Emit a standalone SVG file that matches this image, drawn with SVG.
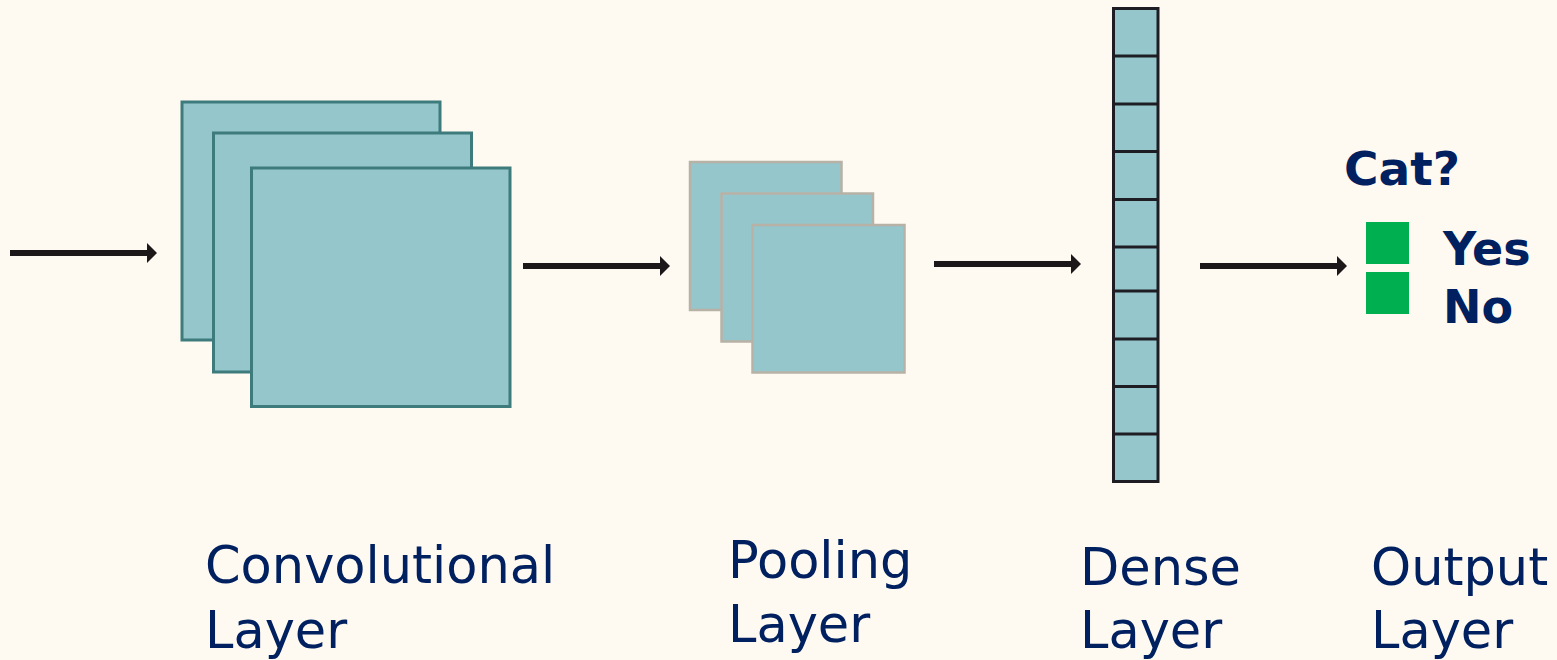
<svg xmlns="http://www.w3.org/2000/svg" width="1557" height="660" viewBox="0 0 1557 660">
<defs>
<style>
.conv{fill:#94c6cc;stroke:#3e7b7d;stroke-width:3}
.pool{fill:#94c6cc;stroke:#b8b2a6;stroke-width:2.5}
.dense{fill:#94c6cc;stroke:#1f1d24;stroke-width:3}
.div{stroke:#1f1d24;stroke-width:3}
.lbl{font-family:"DejaVu Sans","Liberation Sans",sans-serif;font-size:51px;fill:#002060}
.bold{font-family:"DejaVu Sans","Liberation Sans",sans-serif;font-weight:bold;fill:#002060}
.arr{stroke:#1c1719;stroke-width:6;fill:none;marker-end:url(#ah)}
.green{fill:#00b050}
</style>
<marker id="ah" markerUnits="userSpaceOnUse" markerWidth="12" markerHeight="20" refX="0" refY="10" orient="auto">
<path d="M0,0 L10,10 L0,20 Z" fill="#1c1719"/>
</marker>
</defs>
<rect width="1557" height="660" fill="#fefaf2"/>
<g id="connectors">
<line class="arr" x1="10" y1="253" x2="147" y2="253"/>
<line class="arr" x1="523" y1="266" x2="660" y2="266"/>
<line class="arr" x1="934" y1="264" x2="1071" y2="264"/>
<line class="arr" x1="1200" y1="266" x2="1337" y2="266"/>
</g>
<g id="conv-layer">
<rect class="conv" x="182" y="102" width="258" height="238"/>
<rect class="conv" x="213.5" y="133" width="258" height="239"/>
<rect class="conv" x="251.5" y="168" width="258.5" height="238.5"/>
</g>
<g id="pool-layer">
<rect class="pool" x="690" y="162" width="151.5" height="148"/>
<rect class="pool" x="721.5" y="193.5" width="151.5" height="148"/>
<rect class="pool" x="752.5" y="225" width="152" height="147.5"/>
</g>
<g id="dense-layer">
<rect class="dense" x="1113.5" y="8.5" width="44.5" height="473"/>
<line class="div" x1="1113.5" y1="56" x2="1158" y2="56"/>
<line class="div" x1="1113.5" y1="104" x2="1158" y2="104"/>
<line class="div" x1="1113.5" y1="151.5" x2="1158" y2="151.5"/>
<line class="div" x1="1113.5" y1="199.5" x2="1158" y2="199.5"/>
<line class="div" x1="1113.5" y1="247" x2="1158" y2="247"/>
<line class="div" x1="1113.5" y1="291" x2="1158" y2="291"/>
<line class="div" x1="1113.5" y1="339" x2="1158" y2="339"/>
<line class="div" x1="1113.5" y1="386.5" x2="1158" y2="386.5"/>
<line class="div" x1="1113.5" y1="434" x2="1158" y2="434"/>
</g>
<g id="output-layer">
<text class="bold" x="1344" y="185" font-size="47">Cat?</text>
<rect class="green" x="1366" y="222" width="43" height="42"/>
<rect class="green" x="1366" y="272" width="43" height="42"/>
<text class="bold" x="1443" y="265" font-size="46">Yes</text>
<text class="bold" x="1443" y="323" font-size="46">No</text>
</g>
<g id="labels">
<text class="lbl" x="205" y="583">Convolutional</text>
<text class="lbl" x="205" y="648">Layer</text>
<text class="lbl" x="728" y="578">Pooling</text>
<text class="lbl" x="728" y="642">Layer</text>
<text class="lbl" x="1080" y="585">Dense</text>
<text class="lbl" x="1080" y="648">Layer</text>
<text class="lbl" x="1371" y="585">Output</text>
<text class="lbl" x="1371" y="648">Layer</text>
</g>
</svg>
